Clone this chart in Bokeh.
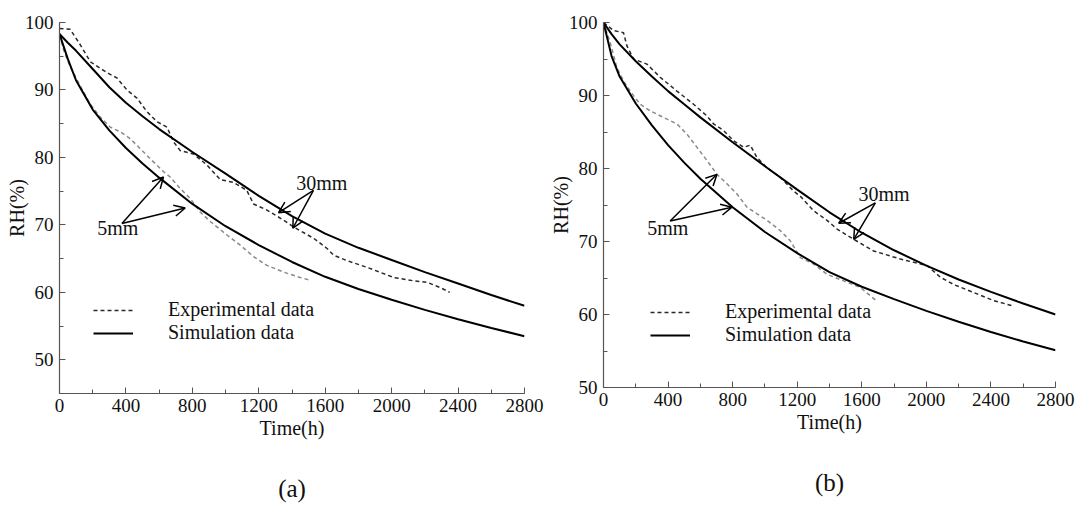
import math
from bokeh.plotting import figure
from bokeh.layouts import row
from bokeh.models import (SingleIntervalTicker, Label, Arrow, OpenHead, Legend,
                          LegendItem, Range1d, Title)
from bokeh.embed import file_html
from bokeh.resources import INLINE

# ---------------- data ----------------
# simulation time grid (h)
sim_time = [0, 50, 100, 200, 300, 400, 500, 600, 800, 1000, 1200, 1400,
            1600, 1800, 2000, 2200, 2400, 2600, 2800]

# panel (a)
a_sim_5mm = [98.3, 94.6, 91.4, 87.1, 84.0, 81.4, 79.1, 77.0, 73.1, 69.8, 67.0,
             64.5, 62.3, 60.5, 58.9, 57.4, 56.0, 54.7, 53.5]
a_sim_30mm = [98.3, 97.0, 95.8, 93.1, 90.4, 88.1, 86.1, 84.2, 80.8, 77.6, 74.3,
              71.3, 68.7, 66.6, 64.8, 63.0, 61.3, 59.6, 58.0]
a_exp_30mm_t = [0, 64, 125, 185, 245, 305, 345, 406, 466, 526, 586, 647, 687,
                727, 807, 887, 968, 1048, 1128, 1168, 1249, 1349, 1409, 1531,
                1611, 1651, 1731, 1852, 2012, 2133, 2213, 2293, 2350]
a_exp_30mm = [99.1, 99.0, 96.7, 94.2, 93.2, 92.3, 91.8, 90.0, 88.8, 86.8, 85.3,
              84.5, 82.3, 81.0, 80.5, 78.9, 76.7, 76.3, 75.1, 73.1, 72.2, 70.7,
              69.7, 68.0, 66.5, 65.5, 64.7, 63.7, 62.2, 61.7, 61.5, 60.7, 60.0]
a_exp_5mm_t = [0, 25, 65, 125, 185, 245, 305, 365, 425, 486, 546, 626, 666,
               727, 787, 847, 908, 1008, 1088, 1168, 1249, 1349, 1449, 1510]
a_exp_5mm = [98.2, 95.9, 93.4, 90.6, 87.9, 86.0, 84.5, 83.8, 82.8, 81.3, 79.8,
             77.9, 77.1, 75.4, 73.9, 71.9, 70.5, 68.5, 67.0, 65.3, 64.0, 63.0,
             62.2, 61.8]

# panel (b)
b_sim_5mm = [100.0, 95.4, 92.6, 88.9, 85.9, 83.2, 80.8, 78.6, 74.7, 71.3, 68.4,
             65.8, 63.8, 62.1, 60.5, 59.0, 57.6, 56.3, 55.1]
b_sim_30mm = [100.0, 98.4, 97.0, 94.7, 92.6, 90.6, 88.8, 87.0, 83.6, 80.3, 77.1,
              74.0, 71.2, 68.8, 66.7, 64.8, 63.1, 61.5, 60.0]
b_exp_30mm_t = [0, 62, 124, 145, 186, 269, 351, 455, 558, 641, 682, 744, 806,
                868, 909, 951, 1013, 1095, 1178, 1219, 1302, 1385, 1447, 1550,
                1674, 1839, 2005, 2087, 2170, 2294, 2418, 2532]
b_exp_30mm = [100.0, 98.9, 98.6, 96.8, 95.0, 94.3, 92.5, 90.6, 88.8, 87.2, 86.1,
              85.2, 83.8, 82.9, 83.2, 81.5, 80.1, 78.8, 76.9, 76.2, 74.2, 72.9,
              71.7, 70.3, 68.7, 67.6, 66.7, 65.1, 64.1, 63.0, 61.9, 61.2]
b_exp_5mm_t = [0, 41, 83, 124, 165, 227, 289, 372, 455, 517, 579, 641, 703, 765,
               827, 889, 951, 1013, 1095, 1157, 1219, 1302, 1385, 1488, 1591, 1684]
b_exp_5mm = [100.0, 97.3, 93.8, 92.0, 90.6, 88.8, 87.9, 87.0, 86.1, 84.7, 82.9,
             81.1, 79.2, 77.9, 76.5, 74.7, 73.8, 72.9, 71.5, 70.1, 67.8, 66.9,
             65.5, 64.6, 63.7, 62.0]

# tick settings
x_tick_interval = 400
y_tick_interval = 10

FONT = "Liberation Serif"


def make_panel(cfg):
    p = figure(frame_width=cfg["fw"], frame_height=cfg["fh"],
               min_border_left=cfg["bl"], min_border_right=cfg["br"],
               min_border_top=cfg["bt"], min_border_bottom=cfg["bb"],
               x_range=Range1d(0, 2800), y_range=Range1d(cfg["ymin"], 100),
               output_backend="svg", toolbar_location=None)
    p.outline_line_color = None
    p.grid.visible = False
    p.background_fill_color = "white"
    p.border_fill_color = "white"

    p.xaxis.ticker = SingleIntervalTicker(interval=x_tick_interval, num_minor_ticks=2)
    p.yaxis.ticker = SingleIntervalTicker(interval=y_tick_interval, num_minor_ticks=2)
    for ax in (p.xaxis, p.yaxis):
        ax.axis_line_color = "#555555"
        ax.axis_line_width = 1.2
        ax.major_tick_line_color = "#555555"
        ax.minor_tick_line_color = "#555555"
        ax.major_tick_in = 6
        ax.major_tick_out = 0
        ax.minor_tick_in = 4
        ax.minor_tick_out = 0
        ax.major_label_text_font = FONT
        ax.major_label_text_font_size = "19px"
        ax.major_label_text_color = "#111111"
        ax.axis_label_text_font = FONT
        ax.axis_label_text_font_size = "20px"
        ax.axis_label_text_font_style = "normal"
        ax.axis_label_text_color = "#111111"
    p.xaxis.major_label_standoff = 5
    p.yaxis.major_label_standoff = 6
    p.xaxis.axis_label = "Time(h)"
    p.yaxis.axis_label = "RH(%)"
    p.xaxis.axis_label_standoff = 2
    p.yaxis.axis_label_standoff = -6

    r_e5 = p.line(cfg["e5t"], cfg["e5"], line_color="#8a8a8a", line_width=1.5,
                  line_dash="4 3")
    r_e30 = p.line(cfg["e30t"], cfg["e30"], line_color="#2a2a2a", line_width=1.5,
                   line_dash="4 3")
    r_s5 = p.line(sim_time, cfg["s5"], line_color="black", line_width=2)
    r_s30 = p.line(sim_time, cfg["s30"], line_color="black", line_width=2)

    legend = Legend(items=[LegendItem(label="Experimental data", renderers=[r_e30]),
                           LegendItem(label="Simulation data", renderers=[r_s30])],
                    location=cfg["leg"], glyph_width=40, glyph_height=20,
                    label_height=20, label_standoff=35, spacing=0, padding=0,
                    margin=0, border_line_alpha=0, background_fill_alpha=0,
                    label_text_font=FONT, label_text_font_size="20px",
                    label_text_color="#111111")
    p.add_layout(legend)

    for (xs, ys, ends) in cfg["arrows"]:
        for (xe, ye) in ends:
            p.add_layout(Arrow(end=OpenHead(size=11, line_width=1.5, line_color="black"),
                               x_start=xs, y_start=ys, x_end=xe, y_end=ye,
                               line_width=1.5, line_color="black"))
    for (tx, ty, txt) in cfg["notes"]:
        p.add_layout(Label(x=tx, y=ty, text=txt, text_align="left",
                           text_baseline="middle", text_font=FONT,
                           text_font_size="20px", text_color="#111111"))
    ctext, coff = cfg["cap"]
    p.add_layout(Title(text=ctext, align="center", offset=coff, standoff=62,
                       text_font=FONT, text_font_size="25px",
                       text_font_style="normal", text_color="#111111"), "below")
    return p


cfg_a = dict(fw=465, fh=371, bl=59, br=21, bt=21, bb=117, ymin=45,
             s5=a_sim_5mm, s30=a_sim_30mm, e5t=a_exp_5mm_t, e5=a_exp_5mm,
             e30t=a_exp_30mm_t, e30=a_exp_30mm, leg=(34, 49),
             arrows=[(376, 70.2, [(626, 77.1), (757, 72.5)]),
                     (1529, 75.1, [(1319, 71.8), (1405, 69.5)])],
             notes=[(227, 69.5, "5mm"), (1425, 76.25, "30mm")],
             cap=("(a)", 6))

cfg_b = dict(fw=452, fh=365, bl=58, br=28, bt=22, bb=123, ymin=50,
             s5=b_sim_5mm, s30=b_sim_30mm, e5t=b_exp_5mm_t, e5=b_exp_5mm,
             e30t=b_exp_30mm_t, e30=b_exp_30mm, leg=(47, 41),
             arrows=[(413, 72.8, [(703, 79.2), (796, 74.7)]),
                     (1684, 75.3, [(1457, 72.5), (1550, 70.3)])],
             notes=[(271, 71.9, "5mm"), (1579, 76.56, "30mm")],
             cap=("(b)", 8))

p = row(make_panel(cfg_a), make_panel(cfg_b))

open("out.html", "w").write(file_html(p, INLINE))
